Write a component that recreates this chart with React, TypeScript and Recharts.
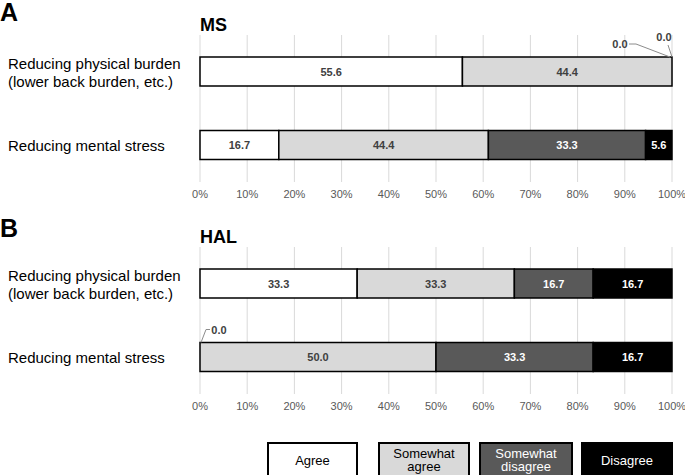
import React from "react"
import { BarChart, Bar, XAxis, YAxis, CartesianGrid, LabelList } from "recharts"

// categories and values (percent of respondents)
const categories = ["Reducing physical burden\n(lower back burden, etc.)", "Reducing mental stress"]
const series = ["Agree", "Somewhat agree", "Somewhat disagree", "Disagree"]

const msAgree = [55.6, 16.7]
const msSomewhatAgree = [44.4, 44.4]
const msSomewhatDisagree = [0.0, 33.3]
const msDisagree = [0.0, 5.6]

const halAgree = [33.3, 0.0]
const halSomewhatAgree = [33.3, 50.0]
const halSomewhatDisagree = [16.7, 33.3]
const halDisagree = [16.7, 16.7]

const xTicks = [0, 10, 20, 30, 40, 50, 60, 70, 80, 90, 100]

const FILLS = ["#ffffff", "#d9d9d9", "#595959", "#000000"]
const TEXT = ["#404040", "#404040", "#ffffff", "#ffffff"]
const KEYS = ["agree", "somewhatAgree", "somewhatDisagree", "disagree"]
const FONT = "'Liberation Sans', Arial, sans-serif"

const buildRows = (a: number[], sa: number[], sd: number[], d: number[]) =>
  categories.map((name, i) => ({
    name,
    agree: a[i],
    somewhatAgree: sa[i],
    somewhatDisagree: sd[i],
    disagree: d[i],
  }))

const msData = buildRows(msAgree, msSomewhatAgree, msSomewhatDisagree, msDisagree)
const halData = buildRows(halAgree, halSomewhatAgree, halSomewhatDisagree, halDisagree)

// zero-width segments get a callout; it hangs off the neighbouring (host) bar's edge
type Callout = { host: string; key: string; side: "start" | "end"; tx: number; ty: number; pts: number[][] }

const CategoryTick = (props: any) => {
  const { y, payload } = props
  const lines = String(payload.value).split("\n")
  const lh = 18
  const y0 = y - ((lines.length - 1) * lh) / 2
  return (
    <text x={8} y={y0} fill="#000" fontSize={15} fontFamily={FONT} dominantBaseline="central">
      {lines.map((l, i) => (
        <tspan key={i} x={8} y={y0 + i * lh}>
          {l}
        </tspan>
      ))}
    </text>
  )
}

const box = (props: any) => {
  const vb = props.viewBox || props
  return {
    x: vb.x ?? props.x,
    y: vb.y ?? props.y,
    width: vb.width ?? props.width ?? 0,
    height: vb.height ?? props.height ?? 0,
  }
}

const makeLabel = (color: string) => (props: any) => {
  const { x, y, width, height } = box(props)
  const value = Number(props.value)
  if (!(value > 0)) return null
  return (
    <text
      x={x + width / 2}
      y={y + height / 2}
      fill={color}
      fontSize={11}
      fontWeight="bold"
      fontFamily={FONT}
      textAnchor="middle"
      dominantBaseline="central"
    >
      {value.toFixed(1)}
    </text>
  )
}

const makeCallout = (c: Callout) => (props: any) => {
  const value = Number(props.value)
  if (value !== 0) return null
  const b = box(props)
  const x = c.side === "end" ? b.x + b.width : b.x
  const y = b.y
  const pts = c.pts.map((p) => `${x + p[0]},${y + p[1]}`).join(" ")
  return (
    <g>
      <polyline points={pts} fill="none" stroke="#8c8c8c" strokeWidth={1} />
      <text
        x={x + c.tx}
        y={y + c.ty}
        fill="#404040"
        fontSize={11}
        fontWeight="bold"
        fontFamily={FONT}
        textAnchor="middle"
        dominantBaseline="central"
      >
        {value.toFixed(1)}
      </text>
    </g>
  )
}

const Panel = ({ data, callouts }: { data: any[]; callouts: Callout[] }) => (
  <BarChart
    width={685}
    height={200}
    data={data}
    layout="vertical"
    margin={{ top: 35, right: 13, left: 0, bottom: 0 }}
    barSize={29}
  >
    <CartesianGrid horizontal={false} stroke="#d9d9d9" />
    <XAxis
      type="number"
      domain={[0, 100]}
      ticks={xTicks}
      tickFormatter={(v) => `${v}%`}
      axisLine={false}
      tickLine={false}
      interval={0}
      height={18}
      tick={{ fill: "#595959", fontSize: 11, fontFamily: FONT }}
    />
    <YAxis type="category" dataKey="name" width={200} axisLine={false} tickLine={false} tick={<CategoryTick />} />
    {KEYS.map((k, i) => (
      <Bar
        key={k}
        dataKey={k}
        name={series[i]}
        stackId="s"
        fill={FILLS[i]}
        stroke="#000"
        strokeWidth={1.5}
        isAnimationActive={false}
      >
        <LabelList dataKey={k} content={makeLabel(TEXT[i])} />
        {callouts
          .filter((c) => c.host === k)
          .map((c) => (
            <LabelList key={c.key} dataKey={c.key} content={makeCallout(c)} />
          ))}
      </Bar>
    ))}
  </BarChart>
)

const msCallouts: Callout[] = [
  { host: "somewhatAgree", key: "somewhatDisagree", side: "end", tx: -52, ty: -13, pts: [[-43, -13], [-36, -13], [-2, 0]] },
  { host: "somewhatAgree", key: "disagree", side: "end", tx: -8, ty: -20, pts: [[-4, -12], [0, 0]] },
]

const halCallouts: Callout[] = [
  { host: "somewhatAgree", key: "agree", side: "start", tx: 19, ty: -13, pts: [[10, -13], [6, -13], [1, 0]] },
]

const legendBoxes = [
  { left: 267, width: 91, label: "Agree" },
  { left: 378, width: 92, label: "Somewhat\nagree" },
  { left: 479, width: 94, label: "Somewhat\ndisagree" },
  { left: 581, width: 92, label: "Disagree" },
]

export default function App() {
  return (
    <div
      style={{
        position: "absolute",
        left: 0,
        top: 0,
        width: 685,
        height: 475,
        background: "#fff",
        overflow: "hidden",
        fontFamily: FONT,
      }}
    >
      <div style={{ position: "absolute", left: 0, top: 0, fontSize: 25, lineHeight: "25px", fontWeight: "bold" }}>A</div>
      <div style={{ position: "absolute", left: 200, top: 15, fontSize: 18, fontWeight: "bold" }}>MS</div>
      <div style={{ position: "absolute", left: 0, top: 0 }}>
        <Panel data={msData} callouts={msCallouts} />
      </div>

      <div style={{ position: "absolute", left: 0, top: 216, fontSize: 25, lineHeight: "25px", fontWeight: "bold" }}>B</div>
      <div style={{ position: "absolute", left: 200, top: 227, fontSize: 18, fontWeight: "bold" }}>HAL</div>
      <div style={{ position: "absolute", left: 0, top: 212 }}>
        <Panel data={halData} callouts={halCallouts} />
      </div>

      {legendBoxes.map((b, i) => (
        <div
          key={b.label}
          style={{
            position: "absolute",
            left: b.left,
            top: 442,
            width: b.width,
            height: 36,
            boxSizing: "border-box",
            border: "2px solid #000",
            background: FILLS[i],
            color: i >= 2 ? "#fff" : "#000",
            fontSize: 13,
            lineHeight: "13px",
            display: "flex",
            alignItems: "center",
            justifyContent: "center",
            textAlign: "center",
            whiteSpace: "pre-line",
          }}
        >
          {b.label}
        </div>
      ))}
    </div>
  )
}
